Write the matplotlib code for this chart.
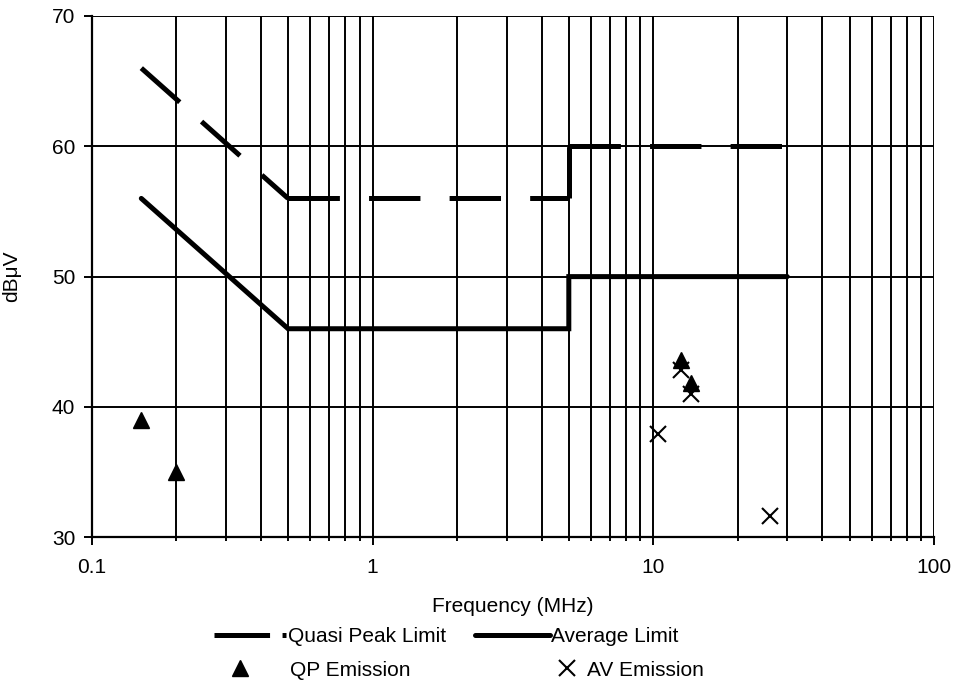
import numpy as np
import matplotlib.pyplot as plt
from matplotlib.lines import Line2D
from matplotlib.ticker import LogLocator, NullFormatter, FixedLocator, FuncFormatter

plt.rcParams['font.family'] = ['Liberation Sans', 'DejaVu Sans']
plt.rcParams['lines.scale_dashes'] = False

# limit lines (MHz, dBuV)
qp_limit_f = [0.15, 0.5, 5, 5, 30]
qp_limit_v = [66, 56, 56, 60, 60]
av_limit_f = [0.15, 0.5, 5, 5, 30]
av_limit_v = [56, 46, 46, 50, 50]

# measured emissions
qp_f = [0.15, 0.2, 12.6, 13.6]
qp_v = [39.0, 35.0, 43.6, 41.8]
av_f = [10.4, 12.6, 13.6, 26.0]
av_v = [37.9, 42.8, 41.0, 31.6]

FS = 15
LW = 3.6
DASH = (37, 21)

fig = plt.figure(figsize=(9.57, 6.95), dpi=100)
ax = fig.add_axes([0.096, 0.227, 0.88, 0.75])

ax.set_xscale('log')
ax.set_xlim(0.1, 100)
ax.set_ylim(30, 70)

# excel restarts the dash pattern on every segment
for i in range(len(qp_limit_f) - 1):
    ax.plot(qp_limit_f[i:i + 2], qp_limit_v[i:i + 2], color='black', lw=LW,
            dashes=DASH, dash_capstyle='butt')
l2, = ax.plot(av_limit_f, av_limit_v, color='black', lw=LW,
              label='Average Limit', solid_capstyle='round', solid_joinstyle='miter')
p1, = ax.plot(qp_f, qp_v, ls='none', marker='^', color='black', ms=11.5,
              label='QP Emission')
p2, = ax.plot(av_f, av_v, ls='none', marker='x', color='black', ms=12, mew=1.5,
              label='AV Emission')
# legend sample for the dashed limit (shorter gap, like the excel legend)
l1 = Line2D([], [], color='black', lw=LW, dashes=(40, 9), dash_capstyle='butt',
            label='Quasi Peak Limit')

ax.xaxis.set_major_locator(LogLocator(base=10))
ax.xaxis.set_minor_locator(LogLocator(base=10, subs=np.arange(2, 10)))
ax.xaxis.set_minor_formatter(NullFormatter())
ax.xaxis.set_major_formatter(FuncFormatter(lambda v, p: '%g' % v))
ax.yaxis.set_major_locator(FixedLocator([30, 40, 50, 60, 70]))

ax.grid(True, which='both', axis='x', color='black', lw=1.4)
ax.grid(True, which='major', axis='y', color='black', lw=1.4)
ax.set_axisbelow(True)

for s in ['top', 'right']:
    ax.spines[s].set_visible(False)
for s in ['left', 'bottom']:
    ax.spines[s].set_linewidth(1.6)

ax.tick_params(axis='both', which='major', direction='out', length=6, width=1.4,
               labelsize=FS, colors='black')
ax.tick_params(axis='x', which='minor', direction='out', length=3, width=1.4)
ax.tick_params(axis='x', which='major', pad=9)
ax.tick_params(axis='y', which='major', pad=6)

ax.set_ylabel('dBμV', fontsize=FS, labelpad=22)
ax.set_xlabel('Frequency (MHz)', fontsize=FS, labelpad=14)

# legend entries laid out like the excel one
W, H = 957.0, 695.0
entries = [
    (l1, 214, 637, 3.45, 0.1),
    (l2, 475, 637, 3.6, 0.05),
    (p1, 213, 670, 2.6, 1.1),
    (p2, 558, 670, 0.9, 0.5),
]
for h, x0, y0, hl, pad in entries:
    fig.legend(handles=[h], loc='center left',
               bbox_to_anchor=(x0 / W, 1 - y0 / H), frameon=False,
               fontsize=FS, handlelength=hl, handletextpad=pad,
               borderpad=0, borderaxespad=0)

fig.savefig('out.png', dpi=100)
